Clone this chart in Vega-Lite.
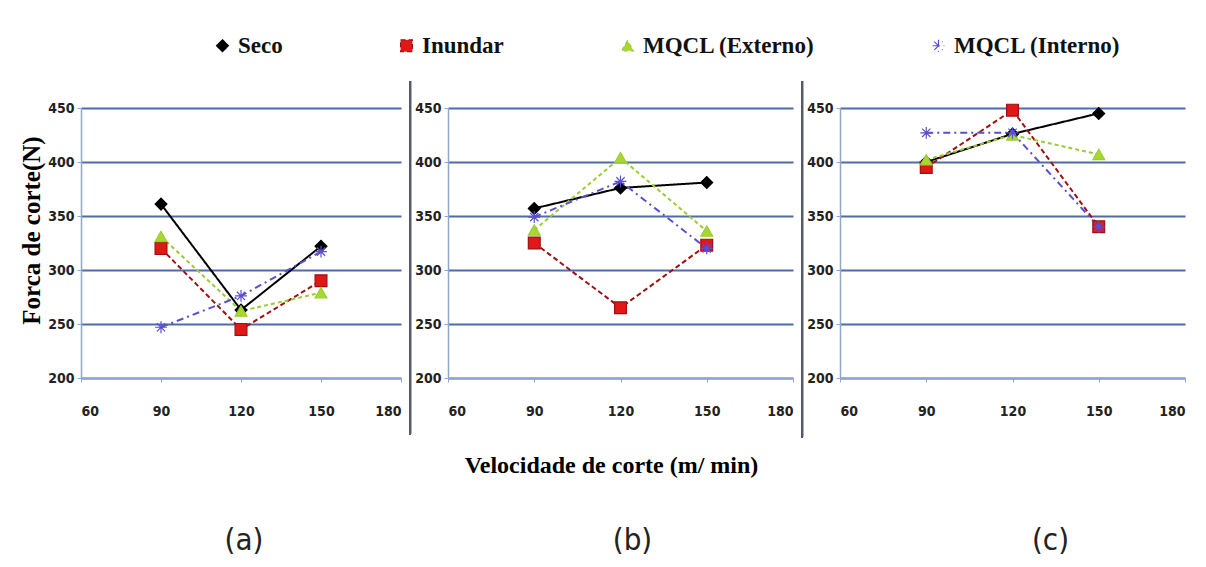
{
  "$schema": "https://vega.github.io/schema/vega-lite/v6.json",
  "background": "white",
  "padding": {"left": 19, "top": 34, "right": 8, "bottom": 5},
  "data": {"values": [
    {"panel": "a", "serie": "Seco", "v": 90, "f": 361},
    {"panel": "a", "serie": "Seco", "v": 120, "f": 263},
    {"panel": "a", "serie": "Seco", "v": 150, "f": 322},
    {"panel": "a", "serie": "Inundar", "v": 90, "f": 320},
    {"panel": "a", "serie": "Inundar", "v": 120, "f": 245},
    {"panel": "a", "serie": "Inundar", "v": 150, "f": 290},
    {"panel": "a", "serie": "MQCL (Externo)", "v": 90, "f": 331},
    {"panel": "a", "serie": "MQCL (Externo)", "v": 120, "f": 262},
    {"panel": "a", "serie": "MQCL (Externo)", "v": 150, "f": 279},
    {"panel": "a", "serie": "MQCL (Interno)", "v": 90, "f": 247},
    {"panel": "a", "serie": "MQCL (Interno)", "v": 120, "f": 276},
    {"panel": "a", "serie": "MQCL (Interno)", "v": 150, "f": 317},
    {"panel": "b", "serie": "Seco", "v": 90, "f": 357},
    {"panel": "b", "serie": "Seco", "v": 120, "f": 376},
    {"panel": "b", "serie": "Seco", "v": 150, "f": 381},
    {"panel": "b", "serie": "Inundar", "v": 90, "f": 325},
    {"panel": "b", "serie": "Inundar", "v": 120, "f": 265},
    {"panel": "b", "serie": "Inundar", "v": 150, "f": 323},
    {"panel": "b", "serie": "MQCL (Externo)", "v": 90, "f": 337},
    {"panel": "b", "serie": "MQCL (Externo)", "v": 120, "f": 404},
    {"panel": "b", "serie": "MQCL (Externo)", "v": 150, "f": 336},
    {"panel": "b", "serie": "MQCL (Interno)", "v": 90, "f": 349},
    {"panel": "b", "serie": "MQCL (Interno)", "v": 120, "f": 382},
    {"panel": "b", "serie": "MQCL (Interno)", "v": 150, "f": 320},
    {"panel": "c", "serie": "Seco", "v": 90, "f": 400},
    {"panel": "c", "serie": "Seco", "v": 120, "f": 426},
    {"panel": "c", "serie": "Seco", "v": 150, "f": 445},
    {"panel": "c", "serie": "Inundar", "v": 90, "f": 395},
    {"panel": "c", "serie": "Inundar", "v": 120, "f": 448},
    {"panel": "c", "serie": "Inundar", "v": 150, "f": 340},
    {"panel": "c", "serie": "MQCL (Externo)", "v": 90, "f": 402},
    {"panel": "c", "serie": "MQCL (Externo)", "v": 120, "f": 425},
    {"panel": "c", "serie": "MQCL (Externo)", "v": 150, "f": 407},
    {"panel": "c", "serie": "MQCL (Interno)", "v": 90, "f": 427},
    {"panel": "c", "serie": "MQCL (Interno)", "v": 120, "f": 427},
    {"panel": "c", "serie": "MQCL (Interno)", "v": 150, "f": 340}
  ]},
  "spacing": 47,
  "bounds": "flush",
  "resolve": {"scale": {"x": "independent", "y": "independent"}},
  "hconcat": [
    {
      "width": 320, "height": 270,
      "title": {"text": "(a)", "orient": "bottom", "offset": 108, "dx": 3},
      "transform": [{"filter": "datum.panel === 'a'"}],
      "encoding": {
        "x": {"field": "v", "type": "quantitative", "scale": {"domain": [60, 180], "nice": false}, "axis": {"values": [60, 90, 120, 150, 180], "title": null}},
        "y": {"field": "f", "type": "quantitative", "scale": {"domain": [200, 450], "nice": false, "zero": false}, "axis": {"values": [200, 250, 300, 350, 400, 450], "title": "Forca de corte(N)", "titleFont": "Liberation Serif", "titleFontSize": 25, "titleFontWeight": "bold", "titlePadding": 3, "titleY": 122}}
      },
      "layer": [
        {"mark": {"type": "line", "strokeWidth": 2},
         "encoding": {
           "stroke": {"field": "serie", "type": "nominal", "scale": {"domain": ["Seco", "Inundar", "MQCL (Externo)", "MQCL (Interno)"], "range": ["#000000", "#a01010", "#9acd32", "#5a4fcf"]}, "legend": {"title": null}},
           "strokeDash": {"field": "serie", "type": "nominal", "scale": {"domain": ["Seco", "Inundar", "MQCL (Externo)", "MQCL (Interno)"], "range": [[1, 0], [5, 3], [4, 3], [7, 4, 2, 4]]}, "legend": null}
         }},
        {"mark": {"type": "point", "filled": true, "size": 140, "strokeWidth": 1.2, "opacity": 1},
         "encoding": {
           "shape": {"field": "serie", "type": "nominal", "scale": {"domain": ["Seco", "Inundar", "MQCL (Externo)", "MQCL (Interno)"], "range": ["diamond", "square", "triangle-up", "M-1,0L1,0M0,-1L0,1M-0.7,-0.7L0.7,0.7M-0.7,0.7L0.7,-0.7"]}, "legend": {"title": null}},
           "fill": {"field": "serie", "type": "nominal", "scale": {"domain": ["Seco", "Inundar", "MQCL (Externo)", "MQCL (Interno)"], "range": ["#000000", "#e01818", "#a8d830", "#7b68ee"]}, "legend": {"title": null}},
           "stroke": {"field": "serie", "type": "nominal", "legend": {"title": null}}
         }}
      ]
    },
    {
      "width": 345, "height": 270,
      "title": {"text": "(b)", "orient": "bottom", "offset": 49, "dx": 12},
      "transform": [{"filter": "datum.panel === 'b'"}],
      "encoding": {
        "x": {"field": "v", "type": "quantitative", "scale": {"domain": [60, 180], "nice": false}, "axis": {"values": [60, 90, 120, 150, 180], "title": "Velocidade de corte (m/ min)", "titleFont": "Liberation Serif", "titleFontSize": 24, "titleFontWeight": "bold", "titlePadding": 35, "titleX": 163}},
        "y": {"field": "f", "type": "quantitative", "scale": {"domain": [200, 450], "nice": false, "zero": false}, "axis": {"values": [200, 250, 300, 350, 400, 450], "title": null}}
      },
      "layer": [
        {"mark": {"type": "rule", "color": "#555a6a", "strokeWidth": 2},
         "encoding": {"x": {"datum": 46.8}, "y": {"datum": 475}, "y2": {"datum": 148}}},
        {"mark": {"type": "line", "strokeWidth": 2},
         "encoding": {
           "stroke": {"field": "serie", "type": "nominal", "legend": {"title": null}},
           "strokeDash": {"field": "serie", "type": "nominal", "legend": null}
         }},
        {"mark": {"type": "point", "filled": true, "size": 140, "strokeWidth": 1.2, "opacity": 1},
         "encoding": {
           "shape": {"field": "serie", "type": "nominal", "legend": {"title": null}},
           "fill": {"field": "serie", "type": "nominal", "legend": {"title": null}},
           "stroke": {"field": "serie", "type": "nominal", "legend": {"title": null}}
         }}
      ]
    },
    {
      "width": 345, "height": 270,
      "title": {"text": "(c)", "orient": "bottom", "offset": 88, "dx": 38},
      "transform": [{"filter": "datum.panel === 'c'"}],
      "encoding": {
        "x": {"field": "v", "type": "quantitative", "scale": {"domain": [60, 180], "nice": false}, "axis": {"values": [60, 90, 120, 150, 180], "title": null}},
        "y": {"field": "f", "type": "quantitative", "scale": {"domain": [200, 450], "nice": false, "zero": false}, "axis": {"values": [200, 250, 300, 350, 400, 450], "title": null}}
      },
      "layer": [
        {"mark": {"type": "rule", "color": "#555a6a", "strokeWidth": 2},
         "encoding": {"x": {"datum": 46.8}, "y": {"datum": 475}, "y2": {"datum": 145}}},
        {"mark": {"type": "line", "strokeWidth": 2},
         "encoding": {
           "stroke": {"field": "serie", "type": "nominal", "legend": {"title": null}},
           "strokeDash": {"field": "serie", "type": "nominal", "legend": null}
         }},
        {"mark": {"type": "point", "filled": true, "size": 140, "strokeWidth": 1.2, "opacity": 1},
         "encoding": {
           "shape": {"field": "serie", "type": "nominal", "legend": {"title": null}},
           "fill": {"field": "serie", "type": "nominal", "legend": {"title": null}},
           "stroke": {"field": "serie", "type": "nominal", "legend": {"title": null}}
         }}
      ]
    }
  ],
  "config": {
    "view": {"stroke": null},
    "axis": {
      "labelFont": "DejaVu Sans Condensed, sans-serif",
      "labelFontSize": 14, "labelFontWeight": "bold", "labelColor": "#222222",
      "domainColor": "#8fa6d2", "domainWidth": 1.5,
      "tickColor": "#8fa6d2", "tickSize": 4,
      "labelPadding": 3
    },
    "axisY": {"grid": true, "gridColor": "#4f6ca6", "gridWidth": 2},
    "axisX": {"grid": false, "labelPadding": 22},
    "title": {"font": "DejaVu Sans Condensed, sans-serif", "fontSize": 31, "fontWeight": "normal", "color": "#222222"},
    "legend": {
      "orient": "none", "legendX": 130, "legendY": -74, "direction": "horizontal",
      "labelFont": "Liberation Serif", "labelFontSize": 23, "labelFontWeight": "bold", "labelColor": "#111111",
      "columnPadding": 112, "symbolSize": 140, "symbolStrokeWidth": 1.2, "labelLimit": 300
    }
  }
}
